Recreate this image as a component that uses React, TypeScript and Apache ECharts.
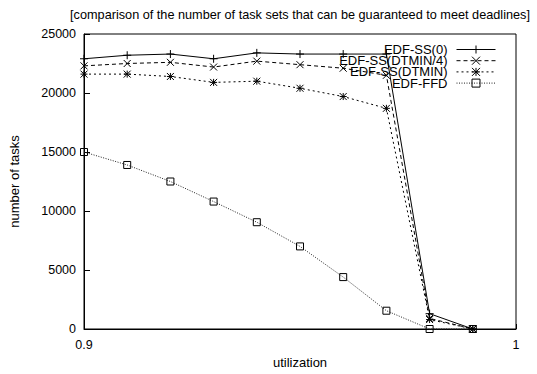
import React, { useEffect, useRef } from "react";
import * as echarts from "echarts";

const utilization = [0.9, 0.91, 0.92, 0.93, 0.94, 0.95, 0.96, 0.97, 0.98, 0.99];
const edfSs0 = [22900, 23200, 23300, 22900, 23400, 23300, 23300, 23300, 1300, 0];
const edfSsQuarter = [22300, 22500, 22600, 22200, 22700, 22400, 22100, 21500, 900, 0];
const edfSsDtmin = [21600, 21600, 21400, 20900, 21000, 20400, 19700, 18700, 800, 0];
const edfFfd = [15000, 13900, 12500, 10800, 9050, 7000, 4400, 1550, 0, 0];
const seriesNames = ["EDF-SS(0)", "EDF-SS(DTMIN/4)", "EDF-SS(DTMIN)", "EDF-FFD"];

const FONT = "'Liberation Sans', Arial, sans-serif";

const pairs = (ys: number[]) => ys.map((y, i) => [utilization[i], y]);

export default function App() {
  const ref = useRef<HTMLDivElement>(null);
  useEffect(() => {
    if (!ref.current) return;
    const chart = echarts.init(ref.current, undefined, { renderer: "svg" });
    const mk = (
      name: string,
      ys: number[],
      symbol: string,
      size: number,
      type: any,
      color = "#000"
    ) => ({
      type: "line",
      name,
      data: pairs(ys),
      symbol,
      symbolSize: size,
      showSymbol: true,
      clip: false,
      lineStyle: { color, width: 1, type },
      itemStyle: { color: "transparent", borderColor: "#000", borderWidth: 1 },
      emphasis: { disabled: true },
      silent: true,
    });
    chart.setOption({
      animation: false,
      textStyle: { fontFamily: FONT },
      title: {
        text: "[comparison of the number of task sets that can be guaranteed to meet deadlines]",
        left: 295,
        textAlign: "center",
        top: 3,
        textStyle: { fontSize: 12.7, fontWeight: "normal", color: "#000", fontFamily: FONT },
      },
      legend: {
        orient: "vertical",
        align: "right",
        right: 36,
        top: 38,
        itemWidth: 39,
        itemHeight: 10,
        itemGap: -1.8,
        lineStyle: { width: 1 },
        itemStyle: { borderWidth: 1 },
        textStyle: {
          fontSize: 13,
          lineHeight: 10,
          color: "#000",
          fontFamily: FONT,
          padding: [0, 4, 0, 0],
        },
        data: seriesNames,
      },
      grid: {
        left: 82,
        right: 21,
        top: 34,
        bottom: 43,
        show: true,
        borderColor: "#000",
        borderWidth: 1,
        backgroundColor: "transparent",
      },
      xAxis: {
        type: "value",
        min: 0.9,
        max: 1,
        interval: 0.1,
        name: "utilization",
        nameLocation: "middle",
        nameGap: 27,
        nameTextStyle: { fontSize: 13, color: "#000", fontFamily: FONT },
        axisLine: { show: true, lineStyle: { color: "#000", width: 1 } },
        axisTick: { show: true, inside: true, length: 5, lineStyle: { color: "#000" } },
        axisLabel: { fontSize: 12.5, color: "#000", margin: 9, fontFamily: FONT },
        splitLine: { show: false },
      },
      yAxis: {
        type: "value",
        min: 0,
        max: 25000,
        interval: 5000,
        name: "number of tasks",
        nameLocation: "middle",
        nameGap: 63,
        nameTextStyle: { fontSize: 13, color: "#000", fontFamily: FONT },
        axisLine: { show: true, lineStyle: { color: "#000", width: 1 } },
        axisTick: { show: true, inside: true, length: 6, lineStyle: { color: "#000" } },
        axisLabel: {
          fontSize: 12.5,
          color: "#000",
          margin: 8,
          fontFamily: FONT,
          formatter: (v: number) => String(v),
        },
        splitLine: { show: false },
      },
      series: [
        mk(seriesNames[0], edfSs0, "path://M0,5L10,5M5,0L5,10", 8, "solid"),
        mk(seriesNames[1], edfSsQuarter, "path://M0,0L10,10M10,0L0,10", 7, [4, 3]),
        mk(seriesNames[2], edfSsDtmin, "path://M0,0L10,10M10,0L0,10M5,0L5,10M0,5L10,5", 7, [2, 3]),
        mk(seriesNames[3], edfFfd, "path://M0,0L10,0L10,10L0,10Z", 7, [1, 1.5], "#222"),
      ],
    });
    return () => chart.dispose();
  }, []);
  return (
    <div
      ref={ref}
      style={{ position: "fixed", left: 0, top: 0, width: 537, height: 374, background: "#fff" }}
    />
  );
}
